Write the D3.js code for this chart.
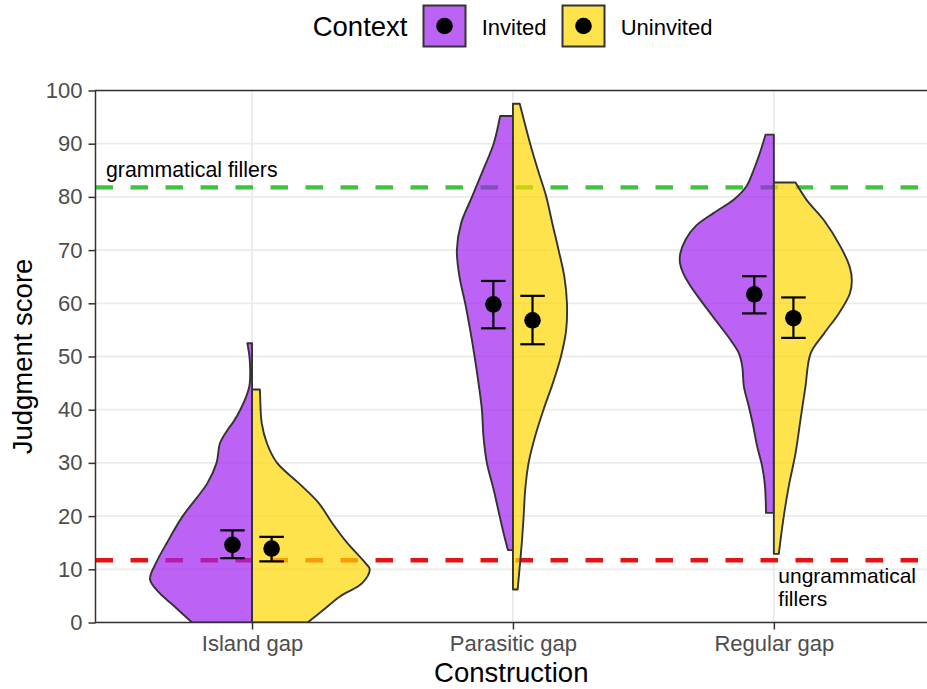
<!DOCTYPE html>
<html>
<head>
<meta charset="utf-8">
<script src="https://cdn.jsdelivr.net/npm/d3@7"></script>
<style>
  html, body { margin: 0; padding: 0; background: #ffffff; }
  svg { display: block; font-family: "Liberation Sans", Arial, sans-serif; }
</style>
</head>
<body>
<svg id="chart" width="927" height="689"></svg>
<script>
// ---- data -------------------------------------------------------------
const categories = ["Island gap", "Parasitic gap", "Regular gap"];
const contexts = ["Invited", "Uninvited"];
const contextColors = ["#A020F0", "#FFD700"];
const yTicks = [0, 10, 20, 30, 40, 50, 60, 70, 80, 90, 100];

// Half-violin outlines: [score, half-width in category units]
const islandInvited = [
  [0, 0.230], [3.1, 0.299], [5.6, 0.356], [8.1, 0.391], [11.2, 0.368],
  [15, 0.326], [19.9, 0.267], [26.2, 0.171], [30, 0.136], [33.7, 0.123],
  [36.2, 0.094], [37.9, 0.069], [40, 0.045], [42.5, 0.022], [44.5, 0.010],
  [47, 0.007], [50, 0.010], [52.5, 0.018]
];
const islandUninvited = [
  [0, 0.213], [2.4, 0.274], [4.9, 0.337], [7.4, 0.422], [10, 0.451],
  [11.2, 0.434], [15, 0.364], [18.7, 0.307], [22.5, 0.255], [26.2, 0.179],
  [30, 0.096], [33.7, 0.057], [37.5, 0.037], [42.5, 0.031], [43.8, 0.030]
];
const parasiticInvited = [
  [13.6, 0.019], [16.2, 0.033], [20, 0.051], [25, 0.074], [30, 0.100],
  [35, 0.113], [40, 0.119], [45, 0.132], [50, 0.147], [55, 0.164],
  [60, 0.183], [65, 0.205], [70, 0.215], [75, 0.199], [80, 0.157],
  [85, 0.115], [90, 0.074], [95.2, 0.049]
];
const parasiticUninvited = [
  [6.2, 0.018], [10, 0.025], [15, 0.034], [20, 0.041], [25, 0.047],
  [30, 0.060], [35, 0.085], [40, 0.117], [45, 0.153], [50, 0.184],
  [55, 0.204], [60, 0.207], [65, 0.197], [70, 0.175], [75, 0.151],
  [80, 0.128], [85, 0.096], [90, 0.066], [97.5, 0.026]
];
const regularInvited = [
  [20.6, 0.030], [25.6, 0.034], [29.4, 0.045], [33.1, 0.064], [36.9, 0.079],
  [40.6, 0.096], [44.4, 0.115], [48.1, 0.121], [50.6, 0.134], [53.1, 0.166],
  [55.6, 0.204], [58.1, 0.243], [60.6, 0.281], [63.2, 0.319], [65.7, 0.348],
  [67.6, 0.360], [69.5, 0.358], [72, 0.338], [74.5, 0.300], [77, 0.230],
  [79.5, 0.153], [82, 0.105], [85.1, 0.077], [88.2, 0.054], [91.7, 0.032]
];
const regularUninvited = [
  [12.9, 0.019], [19.3, 0.036], [25.6, 0.057], [31.8, 0.083], [38.1, 0.102],
  [44.3, 0.121], [50.6, 0.141], [54.3, 0.192], [58.1, 0.249], [61.8, 0.291],
  [64.3, 0.299], [66.8, 0.291], [70.6, 0.256], [75.6, 0.192], [79.4, 0.126],
  [82.7, 0.083]
];

// Mean judgment score with confidence interval, per construction
const meanInvited = [14.6, 59.8, 61.7];
const lowInvited = [12.1, 55.3, 58.1];
const highInvited = [17.3, 64.2, 65.1];
const meanUninvited = [13.9, 56.8, 57.2];
const lowUninvited = [11.5, 52.3, 53.5];
const highUninvited = [16.1, 61.4, 61.1];

// Filler baselines
const fillerScores = [81.8, 11.7];
const fillerColors = ["#3cc43c", "#e31414"];

// ---- layout -----------------------------------------------------------
const svg = d3.select("#chart");
const panel = { left: 95.5, right: 930.4, top: 90.5, bottom: 622.5 };
const x = d3.scaleLinear().domain([0.4, 3.6]).range([panel.left, panel.right]);
const y = d3.scaleLinear().domain([0, 100]).range([panel.bottom, panel.top]);
const nudge = 0.075;

svg.append("defs").append("clipPath").attr("id", "panel-clip")
  .append("rect")
  .attr("x", panel.left).attr("y", panel.top)
  .attr("width", panel.right - panel.left).attr("height", panel.bottom - panel.top);

const plot = svg.append("g").attr("clip-path", "url(#panel-clip)");

// grid
plot.append("g").selectAll("line").data(yTicks).join("line")
  .attr("x1", panel.left).attr("x2", panel.right)
  .attr("y1", d => y(d)).attr("y2", d => y(d))
  .attr("stroke", "#ebebeb").attr("stroke-width", 1.8);
plot.append("g").selectAll("line").data([1, 2, 3]).join("line")
  .attr("x1", d => x(d)).attr("x2", d => x(d))
  .attr("y1", panel.top).attr("y2", panel.bottom)
  .attr("stroke", "#ebebeb").attr("stroke-width", 1.8);

// filler reference lines
plot.append("g").selectAll("line").data(fillerScores).join("line")
  .attr("x1", panel.left).attr("x2", panel.right)
  .attr("y1", d => y(d)).attr("y2", d => y(d))
  .attr("stroke", (d, i) => fillerColors[i])
  .attr("stroke-width", 4.3)
  .attr("stroke-dasharray", "17.5,17.5");

// split violins
const violins = [
  { cat: 1, side: 0, pts: islandInvited },
  { cat: 1, side: 1, pts: islandUninvited },
  { cat: 2, side: 0, pts: parasiticInvited },
  { cat: 2, side: 1, pts: parasiticUninvited },
  { cat: 3, side: 0, pts: regularInvited },
  { cat: 3, side: 1, pts: regularUninvited }
];
plot.append("g").selectAll("path").data(violins).join("path")
  .attr("d", v => d3.area()
    .curve(d3.curveCatmullRom.alpha(0.5))
    .y(p => y(p[0]))
    .x0(() => x(v.cat))
    .x1(p => x(v.cat + (v.side === 0 ? -p[1] : p[1])))(v.pts))
  .attr("fill", v => contextColors[v.side])
  .attr("fill-opacity", 0.7)
  .attr("stroke", "#333333")
  .attr("stroke-width", 1.9)
  .attr("stroke-linejoin", "round");

// mean + interval
const summary = [];
categories.forEach((c, i) => {
  summary.push({ cat: i + 1, side: 0, m: meanInvited[i], lo: lowInvited[i], hi: highInvited[i] });
  summary.push({ cat: i + 1, side: 1, m: meanUninvited[i], lo: lowUninvited[i], hi: highUninvited[i] });
});
const cx = d => x(d.cat + (d.side === 0 ? -nudge : nudge));
const capHalf = 0.047;
const eb = plot.append("g").attr("stroke", "#000").attr("stroke-width", 2.2);
eb.selectAll(".stem").data(summary).join("line")
  .attr("x1", cx).attr("x2", cx)
  .attr("y1", d => y(d.lo)).attr("y2", d => y(d.hi));
eb.selectAll(".capHi").data(summary).join("line")
  .attr("x1", d => x(d.cat + (d.side === 0 ? -nudge : nudge) - capHalf))
  .attr("x2", d => x(d.cat + (d.side === 0 ? -nudge : nudge) + capHalf))
  .attr("y1", d => y(d.hi)).attr("y2", d => y(d.hi));
eb.selectAll(".capLo").data(summary).join("line")
  .attr("x1", d => x(d.cat + (d.side === 0 ? -nudge : nudge) - capHalf))
  .attr("x2", d => x(d.cat + (d.side === 0 ? -nudge : nudge) + capHalf))
  .attr("y1", d => y(d.lo)).attr("y2", d => y(d.lo));
plot.append("g").selectAll("circle").data(summary).join("circle")
  .attr("cx", cx).attr("cy", d => y(d.m)).attr("r", 8.3).attr("fill", "#000");

// filler annotations
svg.append("text")
  .attr("x", 106).attr("y", 176.7)
  .attr("font-size", 21.3).attr("fill", "#000")
  .text("grammatical fillers");
svg.append("text")
  .attr("x", 778.3).attr("y", 582.5)
  .attr("font-size", 21).attr("fill", "#000")
  .text("ungrammatical");
svg.append("text")
  .attr("x", 778.3).attr("y", 606)
  .attr("font-size", 21).attr("fill", "#000")
  .text("fillers");

// panel border
svg.append("rect")
  .attr("x", panel.left).attr("y", panel.top)
  .attr("width", panel.right - panel.left).attr("height", panel.bottom - panel.top)
  .attr("fill", "none").attr("stroke", "#333333").attr("stroke-width", 1.5);

// axes
const yAxis = svg.append("g")
  .attr("transform", `translate(${panel.left},0)`)
  .call(d3.axisLeft(y).tickValues(yTicks).tickSize(7).tickPadding(6));
const xAxis = svg.append("g")
  .attr("transform", `translate(0,${panel.bottom})`)
  .call(d3.axisBottom(x).tickValues([1, 2, 3]).tickFormat(d => categories[d - 1])
    .tickSize(7).tickPadding(6));
[yAxis, xAxis].forEach(a => {
  a.select(".domain").remove();
  a.selectAll(".tick line").attr("stroke", "#333333").attr("stroke-width", 1.5);
  a.selectAll(".tick text").attr("fill", "#4d4d4d").attr("font-size", 22)
    .attr("font-family", "'Liberation Sans', Arial, sans-serif");
});

// axis titles
svg.append("text")
  .attr("x", (panel.left + 928) / 2 - 0.5).attr("y", 682)
  .attr("text-anchor", "middle").attr("font-size", 27.5).attr("fill", "#000")
  .text("Construction");
svg.append("text")
  .attr("transform", `translate(32,${(panel.top + panel.bottom) / 2}) rotate(-90)`)
  .attr("text-anchor", "middle").attr("font-size", 27.5).attr("fill", "#000")
  .text("Judgment score");

// legend
const legend = svg.append("g");
legend.append("text").attr("x", 312.7).attr("y", 36)
  .attr("font-size", 27.5).attr("fill", "#000").text("Context");
const keyX = [423.5, 562.5];
const labelX = [481.7, 620.7];
contexts.forEach((c, i) => {
  legend.append("rect")
    .attr("x", keyX[i]).attr("y", 5.5).attr("width", 42).attr("height", 41)
    .attr("fill", contextColors[i]).attr("fill-opacity", 0.7)
    .attr("stroke", "#333333").attr("stroke-width", 2);
  legend.append("circle")
    .attr("cx", keyX[i] + 21).attr("cy", 26).attr("r", 8.3).attr("fill", "#000");
  legend.append("text").attr("x", labelX[i]).attr("y", 35)
    .attr("font-size", 22).attr("fill", "#000").text(c);
});
</script>
</body>
</html>
